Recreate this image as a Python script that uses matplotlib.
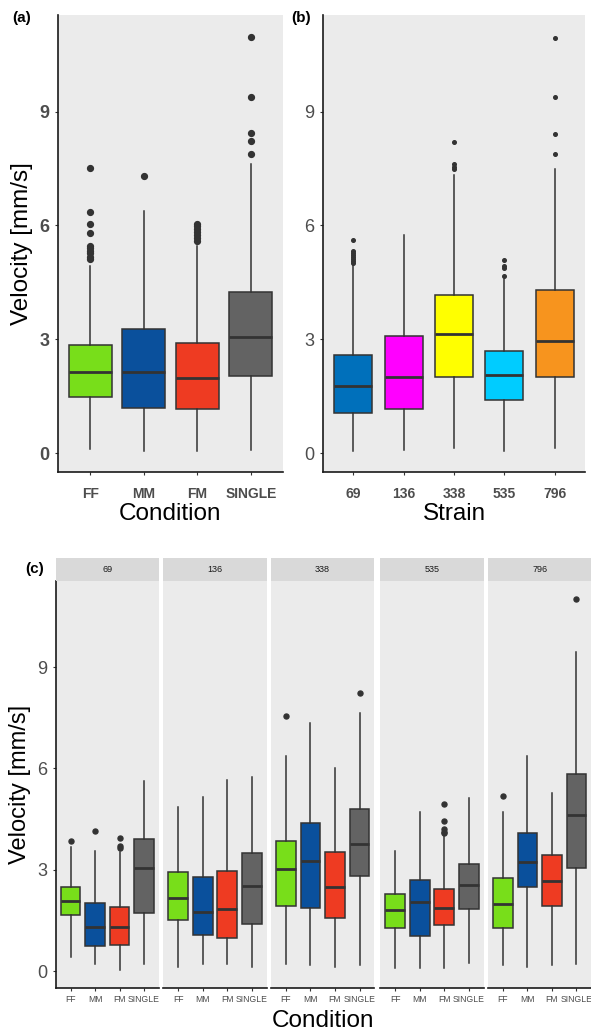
import matplotlib
matplotlib.use("Agg")
import matplotlib.pyplot as plt

plt.rcParams['font.family'] = ['Liberation Sans', 'DejaVu Sans']

# ---------------- data ----------------
conditions = ["FF", "MM", "FM", "SINGLE"]
cond_colors = ["#78DE1A", "#0A509C", "#EE3B22", "#636363"]

a_q1 = [1.48, 1.20, 1.15, 2.03]
a_med = [2.13, 2.13, 1.99, 3.06]
a_q3 = [2.86, 3.27, 2.90, 4.25]
a_lo = [0.10, 0.06, 0.06, 0.09]
a_hi = [4.92, 6.39, 5.45, 7.63]
a_out = [[7.52, 6.35, 6.05, 5.80, 5.47, 5.40, 5.34, 5.27, 5.18, 5.11],
         [7.31],
         [6.05, 5.98, 5.91, 5.84, 5.75, 5.66, 5.60],
         [10.98, 9.40, 8.43, 8.24, 7.89]]

strains = ["69", "136", "338", "535", "796"]
strain_colors = ["#0070BB", "#FF00FF", "#FFFF00", "#00CCFF", "#F7941E"]

b_q1 = [1.05, 1.15, 2.00, 1.39, 2.00]
b_med = [1.78, 2.01, 3.15, 2.06, 2.95]
b_q3 = [2.59, 3.08, 4.17, 2.68, 4.29]
b_lo = [0.06, 0.09, 0.13, 0.06, 0.13]
b_hi = [4.96, 5.74, 7.32, 4.60, 7.49]
b_out = [[5.62, 5.32, 5.27, 5.22, 5.17, 5.12, 5.07, 5.02],
         [],
         [8.21, 7.61, 7.54, 7.48],
         [5.09, 4.94, 4.88, 4.67],
         [10.95, 9.38, 8.40, 7.88]]

# panel (c): per strain (rows), per condition (cols)
c_q1 = [[1.67, 0.74, 0.77, 1.72], [1.50, 1.06, 0.99, 1.40], [1.93, 1.88, 1.58, 2.83],
        [1.29, 1.03, 1.38, 1.85], [1.29, 2.49, 1.93, 3.05]]
c_med = [[2.09, 1.31, 1.31, 3.06], [2.17, 1.75, 1.83, 2.51], [3.03, 3.27, 2.50, 3.76],
         [1.80, 2.04, 1.88, 2.55], [1.99, 3.24, 2.68, 4.62]]
c_q3 = [[2.49, 2.02, 1.89, 3.91], [2.93, 2.78, 2.97, 3.49], [3.86, 4.38, 3.52, 4.81],
        [2.28, 2.70, 2.44, 3.17], [2.75, 4.08, 3.44, 5.83]]
c_lo = [[0.42, 0.20, 0.03, 0.20], [0.13, 0.20, 0.20, 0.13], [0.20, 0.18, 0.13, 0.18],
        [0.08, 0.08, 0.08, 0.25], [0.18, 0.13, 0.18, 0.21]]
c_hi = [[3.66, 3.57, 3.52, 5.63], [4.86, 5.16, 5.65, 5.76], [6.37, 7.35, 6.02, 7.64],
        [3.57, 4.70, 4.03, 5.13], [4.70, 6.37, 5.28, 9.44]]
c_out = [[[3.86], [4.14], [3.94, 3.71, 3.65], []],
         [[], [], [], []],
         [[7.54], [], [], [8.23]],
         [[], [], [4.94, 4.45, 4.22, 4.13, 4.08], []],
         [[5.19], [], [], [11.01]]]

yticks = [0, 3, 6, 9]
YLIM = (-0.5, 11.55)

# ---------------- figure ----------------
W, H = 591, 1032
fig = plt.figure(figsize=(W / 100, H / 100), dpi=100)

BG = "#EBEBEB"
LC = "#333333"
TICKC = "#4D4D4D"


def rect(l, r, t, b):
    return [l / W, 1 - b / H, (r - l) / W, (b - t) / H]


def draw_boxes(ax, q1, med, q3, lo, hi, out, colors, width, msize):
    stats = []
    for i in range(len(q1)):
        stats.append(dict(med=med[i], q1=q1[i], q3=q3[i], whislo=lo[i],
                          whishi=hi[i], fliers=out[i]))
    pos = list(range(len(q1)))
    bp = ax.bxp(stats, positions=pos, widths=width, patch_artist=True,
                showcaps=False, manage_ticks=False,
                boxprops=dict(edgecolor=LC, linewidth=1.1),
                medianprops=dict(color=LC, linewidth=2.0),
                whiskerprops=dict(color=LC, linewidth=1.1),
                flierprops=dict(marker='o', markerfacecolor=LC,
                                markeredgecolor=LC, markersize=msize))
    for patch, c in zip(bp['boxes'], colors):
        patch.set_facecolor(c)
    ax.set_xlim(-0.6, len(q1) - 0.4)
    ax.set_ylim(*YLIM)


def style(ax, left=True):
    ax.set_facecolor(BG)
    for s in ['top', 'right']:
        ax.spines[s].set_visible(False)
    ax.spines['bottom'].set_color('#1A1A1A')
    ax.spines['bottom'].set_linewidth(1.2)
    if left:
        ax.spines['left'].set_color('#1A1A1A')
        ax.spines['left'].set_linewidth(1.2)
    else:
        ax.spines['left'].set_visible(False)
    ax.tick_params(colors=LC, length=2.5, width=0.8, labelcolor=TICKC)


# ---- (a) ----
axa = fig.add_axes(rect(58, 283, 15, 472))
style(axa)
draw_boxes(axa, a_q1, a_med, a_q3, a_lo, a_hi, a_out, cond_colors, 0.8, 4.2)
axa.set_xticks(range(len(conditions)))
axa.set_xticklabels(conditions, fontsize=10, fontweight='bold')
axa.tick_params(axis='x', pad=8)
axa.set_yticks(yticks)
axa.set_yticklabels([str(v) for v in yticks], fontsize=13, fontweight='bold')
axa.set_xlabel("Condition", fontsize=17.5, labelpad=2)
axa.set_ylabel("Velocity [mm/s]", fontsize=17.5, labelpad=5)

# ---- (b) ----
axb = fig.add_axes(rect(323, 585, 15, 472))
style(axb)
draw_boxes(axb, b_q1, b_med, b_q3, b_lo, b_hi, b_out, strain_colors, 0.75, 2.6)
axb.set_xticks(range(len(strains)))
axb.set_xticklabels(strains, fontsize=10, fontweight='bold')
axb.tick_params(axis='x', pad=8)
axb.set_yticks(yticks)
axb.set_yticklabels([str(v) for v in yticks], fontsize=13)
axb.set_xlabel("Strain", fontsize=17.5, labelpad=2)

# ---- (c) ----
facet_x = [(56, 158.7), (163.3, 266.7), (271, 374.3), (380.3, 483.7), (488.3, 591)]
for k, (l, r) in enumerate(facet_x):
    ax = fig.add_axes(rect(l, r, 581, 988))
    style(ax, left=(k == 0))
    draw_boxes(ax, c_q1[k], c_med[k], c_q3[k], c_lo[k], c_hi[k], c_out[k],
               cond_colors, 0.8, 3.6)
    ax.set_xticks(range(len(conditions)))
    ax.set_xticklabels(conditions, fontsize=6.2)
    ax.tick_params(axis='x', pad=2.5)
    if k == 0:
        ax.set_yticks(yticks)
        ax.set_yticklabels([str(v) for v in yticks], fontsize=13)
        ax.set_ylabel("Velocity [mm/s]", fontsize=17, labelpad=5)
    else:
        ax.set_yticks([])
    # strip
    sax = fig.add_axes(rect(l, r, 558, 581))
    sax.set_facecolor("#D9D9D9")
    for s in sax.spines.values():
        s.set_visible(False)
    sax.set_xticks([])
    sax.set_yticks([])
    sax.text(0.5, 0.5, strains[k], ha='center', va='center', fontsize=6.5,
             color="#1A1A1A", transform=sax.transAxes)

fig.text(323 / W, 1 - 1021 / H, "Condition", ha='center', va='center', fontsize=17.5)

# panel letters
fig.text(12 / W, 1 - 18 / H, "(a)", fontsize=11, fontweight='bold', va='center')
fig.text(291 / W, 1 - 18 / H, "(b)", fontsize=11, fontweight='bold', va='center')
fig.text(25 / W, 1 - 569 / H, "(c)", fontsize=11, fontweight='bold', va='center')

fig.savefig("out.png", dpi=100, facecolor='white')
